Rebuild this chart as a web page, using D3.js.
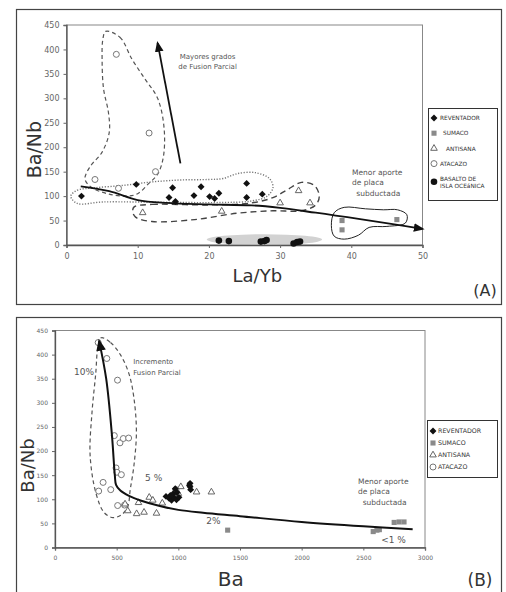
<!DOCTYPE html>
<html>
<head>
<meta charset="utf-8">
<script src="https://cdn.jsdelivr.net/npm/d3@7"></script>
<style>
body { margin: 0; background: #fff; }
svg text { font-family: "DejaVu Sans", sans-serif; }
</style>
</head>
<body>
<svg id="chart" width="506" height="592"></svg>
<script>
// ---- panel A : La/Yb vs Ba/Nb ----
var ticksA_x = [0, 10, 20, 30, 40, 50];
var ticksA_y = [0, 50, 100, 150, 200, 250, 300, 350, 400, 450];

var reventadorA = [[2.1,100],[9.8,124],[14.9,117],[14.4,97],[15.3,89],[17.9,101],[18.9,119],
  [20.1,99],[20.8,95],[21.4,106],[25.3,126],[25.3,97],[27.5,104]];
var sumacoA = [[38.7,50],[38.7,31],[46.4,52]];
var antisanaA = [[10.7,66],[21.8,69],[30,86],[32.6,111],[34.2,86]];
var atacazoA = [[7.0,390],[11.6,229],[12.5,150],[4.0,134],[7.3,116]];
var basaltoA = [[21.4,9],[22.8,8],[27.3,7],[27.8,8],[28.1,10],[31.9,3],[32.4,6],[32.8,7]];

// outlines drawn round each group
var atacazoHullA = [[5.5,437],[7.5,425],[9.2,380],[11,340],[12.8,300],[13.7,240],[13.6,180],[12.8,145],
  [11.5,125],[10,105],[8.5,100],[6,104],[3.5,118],[2.6,135],[3.3,160],[5,190],[6,230],[5.9,270],
  [5.2,320],[5,380],[5.1,420]];
var reventadorHullA = [[0.6,100],[1.5,112],[4,117],[8,122],[12,129],[16,133],[20,134],[22,136],
  [24,146],[26.5,148],[28.5,136],[29,118],[28.2,100],[26,90],[22,87],[16,87],[10,88],[5,88],[1.5,85]];
var antisanaHullA = [[9.5,78],[12,83],[20,82],[26,86],[29,97],[31,113],[33,128],[34.8,122],[35.5,100],
  [35,82],[33,70],[29,70],[24,65],[18,52],[12,48],[9.7,57],[9.3,68]];
var sumacoHullA = [[37.6,66],[39,77],[42,74],[44.5,72],[46.5,72],[47.8,62],[47.6,45],[45,38],[42.5,36],
  [41,20],[39,12],[37.6,18],[37.2,40]];
var basaltoZoneA = {cx: 27.8, cy: 11, rx: 8.1, ry: 11};

var trendA = [[2,120],[6,110],[10,92],[14,86],[20,83],[26,81],[30,76],[35,66],[50,33]];
var meltArrowA = [[16,167],[12.8,413]];

// ---- panel B : Ba vs Ba/Nb ----
var ticksB_x = [0, 500, 1000, 1500, 2000, 2500, 3000];
var ticksB_y = [0, 50, 100, 150, 200, 250, 300, 350, 400, 450];

var reventadorB = [[900,106],[925,102],[945,98],[965,103],[985,99],[1005,104],[960,112],[975,122],
  [990,114],[1095,133],[1095,126],[1100,120],[1090,129],[935,108]];
var sumacoB = [[1400,36],[2580,33],[2610,36],[2630,37],[2750,52],[2790,53],[2830,53]];
var antisanaB = [[568,90],[590,76],[662,70],[722,73],[823,71],[677,93],[764,104],[793,98],[870,92],
  [1020,126],[1148,115],[1268,115],[1000,112]];
var atacazoB = [[350,425],[420,392],[507,347],[481,232],[527,217],[554,226],[597,227],[495,165],
  [502,156],[538,151],[390,135],[354,117],[452,120],[508,87],[564,88],[980,120]];

var atacazoHullB = [[375,435],[450,425],[530,400],[600,360],[640,310],[660,240],[640,170],[610,120],
  [590,85],[540,68],[470,62],[400,72],[335,110],[285,190],[300,280],[330,360],[350,420]];
var curveB = [[2900,38],[2500,44],[2000,53],[1500,65],[1200,72],[1000,78],[850,86],[700,97],[600,107],
  [530,118],[495,130],[485,150],[462,232],[415,350],[358,428]];

var legendA = ["REVENTADOR", "SUMACO", "ANTISANA", "ATACAZO", "BASALTO DE|ISLA OCEáNICA"];
var legendB = ["REVENTADOR", "SUMACO", "ANTISANA", "ATACAZO"];

var svg = d3.select("#chart");

var xA = d3.scaleLinear().domain([0, 50]).range([66.5, 422.5]);
var yA = d3.scaleLinear().domain([0, 450]).range([245, 25]);
var xB = d3.scaleLinear().domain([0, 3000]).range([55, 425]);
var yB = d3.scaleLinear().domain([0, 450]).range([547.5, 330.5]);

svg.append("defs").append("marker")
    .attr("id", "head")
    .attr("viewBox", "0 -5 10 10")
    .attr("refX", 8).attr("refY", 0)
    .attr("markerWidth", 6).attr("markerHeight", 6)
    .attr("markerUnits", "strokeWidth")
    .attr("orient", "auto")
  .append("path")
    .attr("d", "M0,-4L10,0L0,4Z")
    .attr("fill", "#111");

// frames round the two panels
svg.append("rect").attr("x", 16.5).attr("y", 9.5).attr("width", 485).attr("height", 295)
    .attr("fill", "none").attr("stroke", "#444").attr("stroke-width", 1.2);
svg.append("rect").attr("x", 16.5).attr("y", 317.5).attr("width", 485).attr("height", 290)
    .attr("fill", "none").attr("stroke", "#444").attr("stroke-width", 1.2);

function plotBox(x, y) {
  svg.append("rect")
      .attr("x", x.range()[0]).attr("y", y.range()[1])
      .attr("width", x.range()[1] - x.range()[0])
      .attr("height", y.range()[0] - y.range()[1])
      .attr("fill", "none").attr("stroke", "#888");
}

function drawAxes(x, y, tx, ty, fs) {
  var gx = svg.append("g").attr("transform", "translate(0," + y.range()[0] + ")")
      .call(d3.axisBottom(x).tickValues(tx).tickSize(3).tickPadding(5).tickFormat(d3.format("d")));
  var gy = svg.append("g").attr("transform", "translate(" + x.range()[0] + ",0)")
      .call(d3.axisLeft(y).tickValues(ty).tickSize(3).tickPadding(4).tickFormat(d3.format("d")));
  [gx, gy].forEach(function (g) {
    g.select(".domain").attr("stroke", "#555").attr("stroke-width", 1.3);
    g.selectAll(".tick line").attr("stroke", "#666");
    g.selectAll(".tick text").attr("fill", "#666").style("font-size", fs + "px")
        .style("font-family", "DejaVu Sans, sans-serif");
  });
}

var hull = function (x, y) {
  return d3.line().x(function (d) { return x(d[0]); }).y(function (d) { return y(d[1]); })
      .curve(d3.curveCatmullRomClosed.alpha(0.5));
};

function symbols(data, x, y, kind) {
  var g = svg.append("g");
  data.forEach(function (d) {
    drawSymbol(g, x(d[0]), y(d[1]), kind);
  });
}

function drawSymbol(g, px, py, kind) {
  if (kind === "diamond") {
    g.append("path").attr("d", d3.symbol().type(d3.symbolSquare).size(24)())
        .attr("transform", "translate(" + px + "," + py + ") rotate(45)")
        .attr("fill", "#111");
  } else if (kind === "square") {
    g.append("path").attr("d", d3.symbol().type(d3.symbolSquare).size(26)())
        .attr("transform", "translate(" + px + "," + py + ")")
        .attr("fill", "#8a8a8a");
  } else if (kind === "triangle") {
    g.append("path").attr("d", d3.symbol().type(d3.symbolTriangle).size(19)())
        .attr("transform", "translate(" + px + "," + py + ")")
        .attr("fill", "#fff").attr("stroke", "#666").attr("stroke-width", 1);
  } else if (kind === "circle") {
    g.append("circle").attr("cx", px).attr("cy", py).attr("r", 3)
        .attr("fill", "#fff").attr("stroke", "#777").attr("stroke-width", 1);
  } else if (kind === "dot") {
    g.append("circle").attr("cx", px).attr("cy", py).attr("r", 3.3).attr("fill", "#111");
  }
}

// ===== panel A =====
plotBox(xA, yA);

svg.append("ellipse")
    .attr("cx", xA(basaltoZoneA.cx)).attr("cy", yA(basaltoZoneA.cy))
    .attr("rx", xA(basaltoZoneA.cx + basaltoZoneA.rx) - xA(basaltoZoneA.cx))
    .attr("ry", yA(0) - yA(basaltoZoneA.ry))
    .attr("fill", "#d2d2d2");

svg.append("path").datum(atacazoHullA).attr("d", hull(xA, yA))
    .attr("fill", "none").attr("stroke", "#555").attr("stroke-width", 1.2).attr("stroke-dasharray", "4,3");
svg.append("path").datum(reventadorHullA).attr("d", hull(xA, yA))
    .attr("fill", "none").attr("stroke", "#777").attr("stroke-width", 1.4).attr("stroke-dasharray", "1.2,1.6");
svg.append("path").datum(antisanaHullA).attr("d", hull(xA, yA))
    .attr("fill", "none").attr("stroke", "#444").attr("stroke-width", 1.4).attr("stroke-dasharray", "6,4");
svg.append("path").datum(sumacoHullA).attr("d", hull(xA, yA))
    .attr("fill", "none").attr("stroke", "#222").attr("stroke-width", 1);

drawAxes(xA, yA, ticksA_x, ticksA_y, 8);

symbols(basaltoA, xA, yA, "dot");
symbols(reventadorA, xA, yA, "diamond");
symbols(sumacoA, xA, yA, "square");
symbols(antisanaA, xA, yA, "triangle");
symbols(atacazoA, xA, yA, "circle");

svg.append("path").datum(trendA)
    .attr("d", d3.line().x(function (d) { return xA(d[0]); }).y(function (d) { return yA(d[1]); })
        .curve(d3.curveMonotoneX))
    .attr("fill", "none").attr("stroke", "#111").attr("stroke-width", 1.8)
    .attr("marker-end", "url(#head)");
svg.append("path").datum(meltArrowA)
    .attr("d", d3.line().x(function (d) { return xA(d[0]); }).y(function (d) { return yA(d[1]); }))
    .attr("fill", "none").attr("stroke", "#111").attr("stroke-width", 1.8)
    .attr("marker-end", "url(#head)");

function note(lines, size, fill, anchor) {
  var t = svg.append("text").attr("fill", fill).style("font-size", size + "px")
      .attr("text-anchor", anchor || "start");
  lines.forEach(function (l) {
    t.append("tspan").attr("x", l[0]).attr("y", l[1]).text(l[2]);
  });
}

note([[xA(15.9), yA(380), "Mayores grados"], [xA(15.7), yA(359), "de Fusion Parcial"]], 7, "#555");
note([[xA(40.1), yA(144), "Menor aporte"], [xA(40.1), yA(122), "de placa"],
  [xA(40.7), yA(100), "subductada"]], 7.5, "#555");

svg.append("text").attr("transform", "translate(41," + yA(195) + ") rotate(-90)")
    .attr("text-anchor", "middle").attr("fill", "#333").style("font-size", "19px").text("Ba/Nb");
svg.append("text").attr("x", xA(26.8)).attr("y", 282).attr("text-anchor", "middle")
    .attr("fill", "#333").style("font-size", "18px").text("La/Yb");
svg.append("text").attr("x", 485).attr("y", 296).attr("text-anchor", "middle")
    .attr("fill", "#333").style("font-size", "16px").text("(A)");

// legend A
var kinds = ["diamond", "square", "triangle", "circle", "dot"];
var indentA = [0, 3, 6, 0, 0];
var lgA = svg.append("g");
lgA.append("rect").attr("x", 428.5).attr("y", 108.5).attr("width", 69).attr("height", 92)
    .attr("fill", "#fff").attr("stroke", "#333");
legendA.forEach(function (name, i) {
  var cy = 118 + i * 15.2;
  drawSymbol(lgA, 434, cy + (i === 4 ? 3 : 0), kinds[i]);
  name.split("|").forEach(function (part, j) {
    lgA.append("text").attr("x", 440 + indentA[i]).attr("y", cy + 2.2 + j * 7)
        .attr("fill", "#333").style("font-size", "5.8px").text(part);
  });
});

// ===== panel B =====
plotBox(xB, yB);

svg.append("path").datum(atacazoHullB).attr("d", hull(xB, yB))
    .attr("fill", "none").attr("stroke", "#555").attr("stroke-width", 1.2).attr("stroke-dasharray", "4,3");

drawAxes(xB, yB, ticksB_x, ticksB_y, 6);

symbols(atacazoB, xB, yB, "circle");
symbols(antisanaB, xB, yB, "triangle");
symbols(reventadorB, xB, yB, "diamond");
symbols(sumacoB, xB, yB, "square");

svg.append("path").datum(curveB)
    .attr("d", d3.line().x(function (d) { return xB(d[0]); }).y(function (d) { return yB(d[1]); })
        .curve(d3.curveCatmullRom.alpha(0.5)))
    .attr("fill", "none").attr("stroke", "#111").attr("stroke-width", 2)
    .attr("marker-end", "url(#head)");

note([[xB(634), yB(380), "Incremento"], [xB(634), yB(357), "Fusion Parcial"]], 7, "#555");
note([[xB(2457), yB(131), "Menor aporte"], [xB(2457), yB(110), "de placa"],
  [xB(2495), yB(89), "subductada"]], 7.5, "#555");
note([[xB(236), yB(358), "10%"]], 9, "#555", "middle");
note([[xB(800), yB(138), "5 %"]], 9, "#555", "middle");
note([[xB(1285), yB(48), "2%"]], 9, "#555", "middle");
note([[xB(2745), yB(10), "<1 %"]], 9, "#555", "middle");

svg.append("text").attr("transform", "translate(34," + yB(170) + ") rotate(-90)")
    .attr("text-anchor", "middle").attr("fill", "#333").style("font-size", "18px").text("Ba/Nb");
svg.append("text").attr("x", xB(1425)).attr("y", 586).attr("text-anchor", "middle")
    .attr("fill", "#333").style("font-size", "20px").text("Ba");
svg.append("text").attr("x", 480).attr("y", 586).attr("text-anchor", "middle")
    .attr("fill", "#333").style("font-size", "17px").text("(B)");

// legend B
var lgB = svg.append("g");
lgB.append("rect").attr("x", 427.5).attr("y", 420.5).attr("width", 70).attr("height", 57)
    .attr("fill", "#fff").attr("stroke", "#333");
legendB.forEach(function (name, i) {
  var cy = 431 + i * 12;
  drawSymbol(lgB, 433, cy, kinds[i]);
  lgB.append("text").attr("x", 438).attr("y", cy + 2.3)
      .attr("fill", "#333").style("font-size", "6.3px").text(name);
});
</script>
</body>
</html>
